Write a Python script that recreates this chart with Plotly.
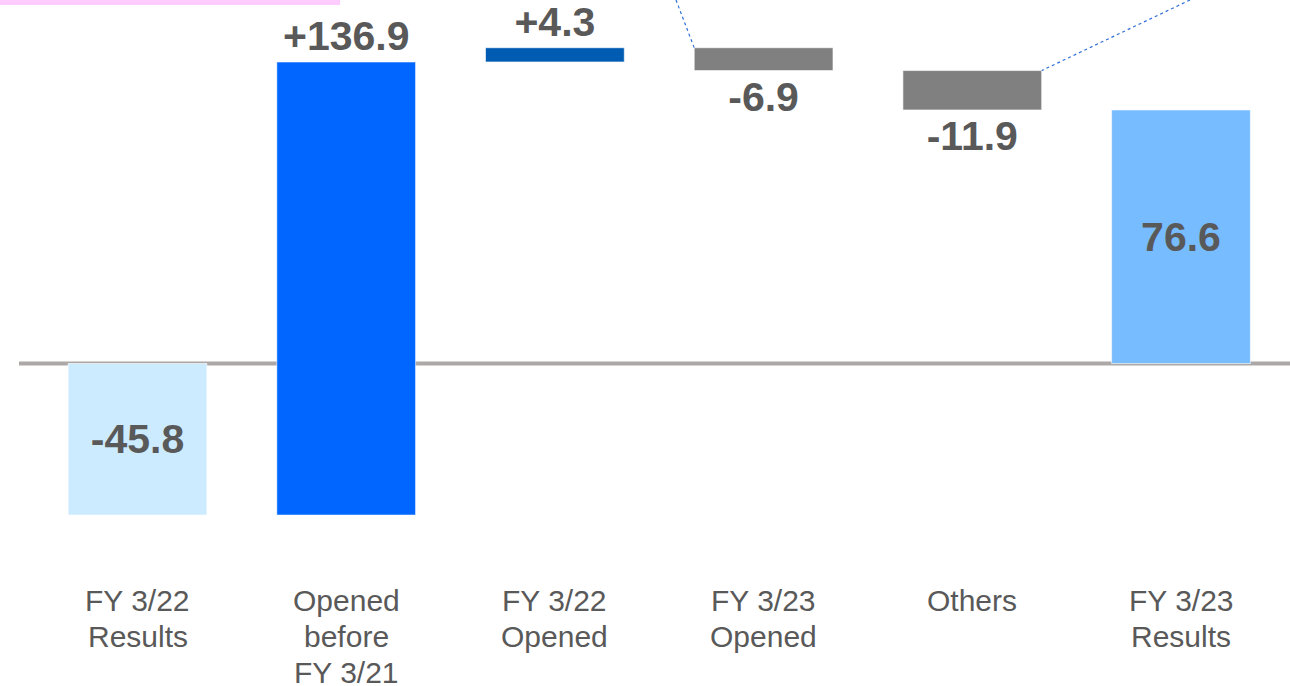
import plotly.graph_objects as go

# ----------------- DATA ----------------- #

categories = ["FY 3/22 Results", "Opened before FY 3/21", "FY 3/22 Opened",
              "FY 3/23 Opened", "Others", "FY 3/23 Results"]
label_lines = [["FY 3/22", "Results"],
               ["Opened", "before", "FY 3/21"],
               ["FY 3/22", "Opened"],
               ["FY 3/23", "Opened"],
               ["Others"],
               ["FY 3/23", "Results"]]
start_value = -45.8
changes = [136.9, 4.3, -6.9, -11.9]
end_value = 76.6
bar_colors = ["#CCEBFF", "#0066FF", "#005BB3", "#808080", "#808080", "#77BCFF"]

# ----------------- WATERFALL GEOMETRY ----------------- #

bases = [0]
heights = [start_value]
running = start_value
for c in changes:
    bases.append(running)
    heights.append(c)
    running += c
bases.append(0)
heights.append(end_value)

texts = ["%.1f" % start_value] + ["%+.1f" % c for c in changes] + ["%.1f" % end_value]
positions = ["inside"] + ["outside"] * len(changes) + ["inside"]

# pixel layout helpers (canvas 1290 x 686)
W, H = 1290, 686
px_per_unit = 3.31
zero_px = 363.5
step_px = 208.7
first_px = 137.5
bar_w = 0.665

y_top = zero_px / px_per_unit
y_bot = -(H - zero_px) / px_per_unit
x_left = -first_px / step_px
x_right = (W - first_px) / step_px

fig = go.Figure()
fig.add_trace(go.Bar(
    x=list(range(len(categories))), y=heights, base=bases,
    width=bar_w,
    marker=dict(color=bar_colors, line=dict(color="rgba(255,255,255,0.6)", width=1)),
    text=texts, textposition=positions, insidetextanchor="middle",
    constraintext="none", cliponaxis=False,
    textfont=dict(family="Liberation Sans", size=41, color="#595959", weight="bold"),
    hoverinfo="skip",
))

# zero line
fig.add_shape(type="line", xref="x", yref="y",
              x0=(19 - first_px) / step_px, x1=x_right, y0=0, y1=0,
              line=dict(color="#ADA8A8", width=4), layer="below")

# callout leader lines (dotted)
fig.add_shape(type="line", xref="x", yref="y",
              x0=(676 - first_px) / step_px, y0=y_top,
              x1=3 - bar_w / 2, y1=bases[3],
              line=dict(color="#2E6FD6", width=1.2, dash="dot"))
fig.add_shape(type="line", xref="x", yref="y",
              x0=(1190 - first_px) / step_px, y0=y_top,
              x1=4 + bar_w / 2, y1=bases[4],
              line=dict(color="#2E6FD6", width=1.2, dash="dot"))

# pink strip at top left (part of a box outside the crop)
fig.add_shape(type="rect", xref="paper", yref="paper",
              x0=0, x1=340 / W, y0=1 - 5 / H, y1=1.01,
              fillcolor="#FFCCFF", line=dict(width=0))

# category labels, one annotation per line
line_centers = [600, 636, 672]
for i, lines in enumerate(label_lines):
    for j, t in enumerate(lines):
        fig.add_annotation(x=i, y=1 - line_centers[j] / H, xref="x", yref="paper",
                           text=t, showarrow=False, yanchor="middle",
                           font=dict(family="Liberation Sans", size=30, color="#595959"))

fig.update_layout(
    width=W, height=H,
    margin=dict(l=0, r=0, t=0, b=0),
    paper_bgcolor="white", plot_bgcolor="white",
    showlegend=False,
    xaxis=dict(range=[x_left, x_right], visible=False, fixedrange=True),
    yaxis=dict(range=[y_bot, y_top], visible=False, fixedrange=True),
)

# remove the default page margin so the figure fills the window exactly
fig.write_html("out.html", config={"displayModeBar": False},
               post_script="document.body.style.margin='0';document.body.style.overflow='hidden';")
